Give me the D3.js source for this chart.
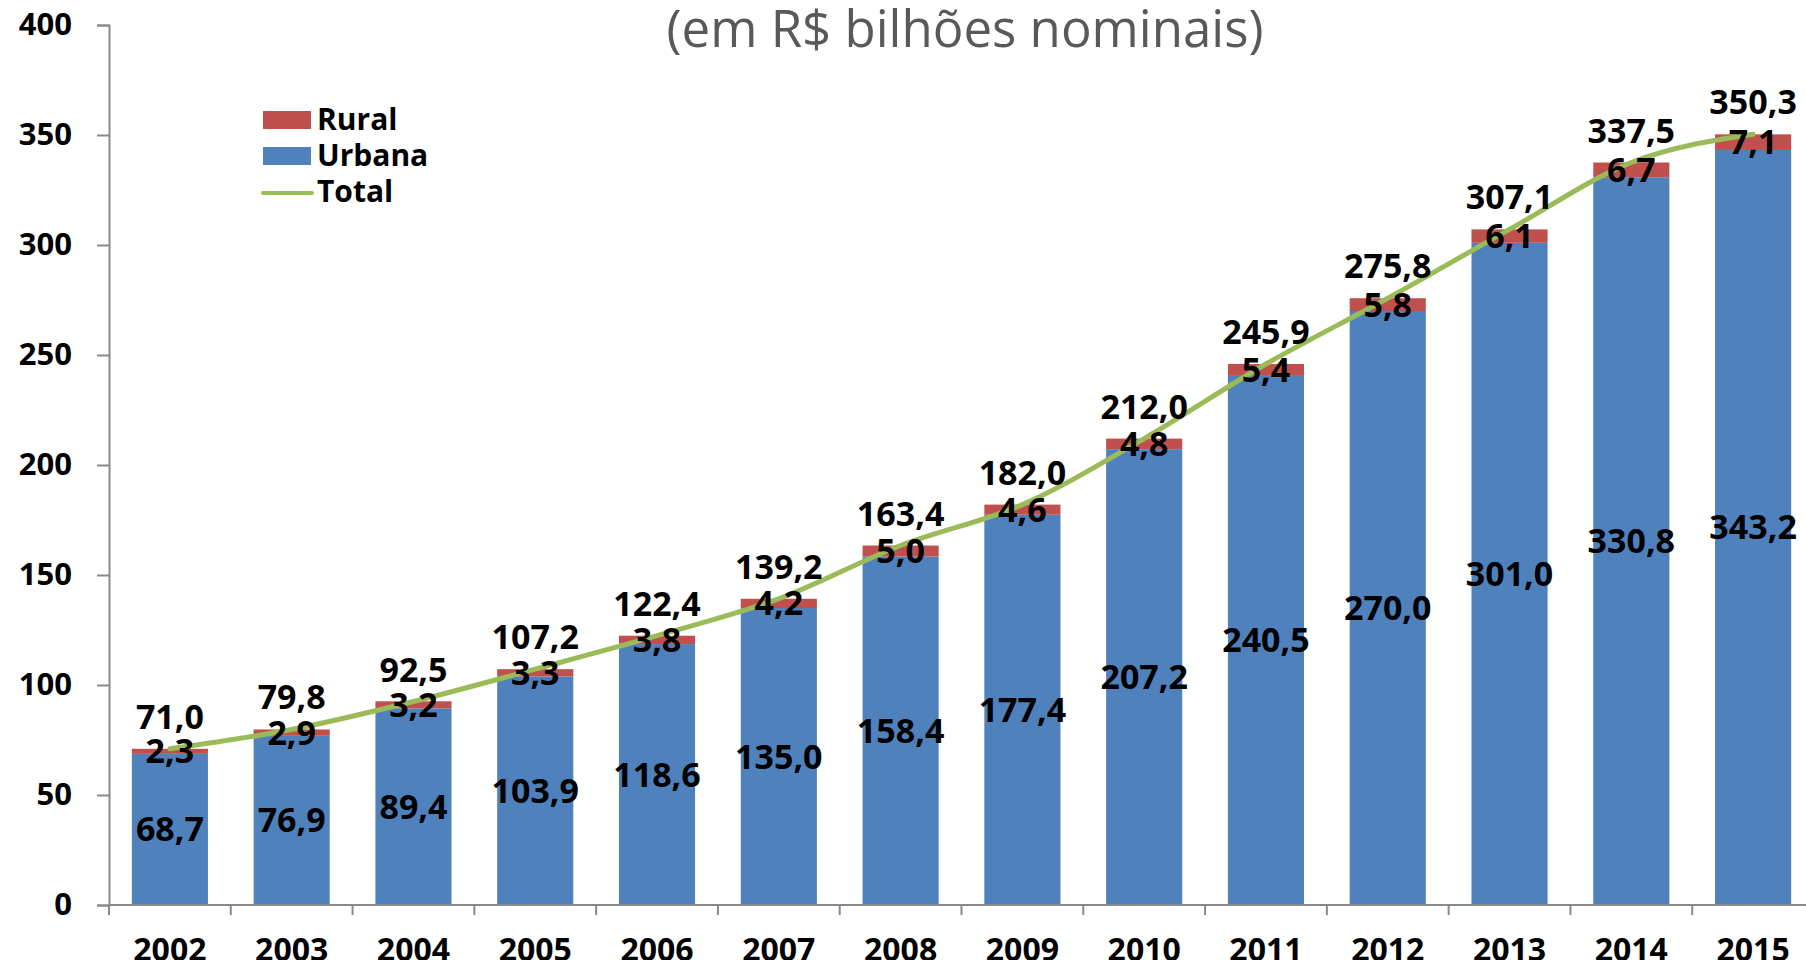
<!DOCTYPE html>
<html>
<head>
<meta charset="utf-8">
<script src="https://cdn.jsdelivr.net/npm/d3@7"></script>
<style>
  body { margin: 0; background: #fff; }
  svg { display: block; font-family: "Open Sans", sans-serif; }
</style>
</head>
<body>
<script>
var years   = ["2002", "2003", "2004", "2005", "2006", "2007", "2008",
               "2009", "2010", "2011", "2012", "2013", "2014", "2015"],
    urbana  = [68.7, 76.9, 89.4, 103.9, 118.6, 135.0, 158.4,
               177.4, 207.2, 240.5, 270.0, 301.0, 330.8, 343.2],
    rural   = [2.3, 2.9, 3.2, 3.3, 3.8, 4.2, 5.0,
               4.6, 4.8, 5.4, 5.8, 6.1, 6.7, 7.1],
    total   = [71.0, 79.8, 92.5, 107.2, 122.4, 139.2, 163.4,
               182.0, 212.0, 245.9, 275.8, 307.1, 337.5, 350.3],
    y_ticks = [0, 50, 100, 150, 200, 250, 300, 350, 400],
    legend  = [["Rural", "rect"], ["Urbana", "rect"], ["Total", "line"]];

(function() {

  var width  = 1806, height = 960,
      x0 = 109, x1 = 1814, y0 = 905, y1 = 25,
      c_urb = "#4f81bd", c_rur = "#c0504d", c_tot = "#9bbb59",
      c_axis = "#898989",
      br = d3.formatLocale({decimal: ",", thousands: ".", grouping: [3], currency: ["R$", ""]}),
      fmt = br.format(".1f"),
      svg, x, y, rows;

  rows = years.map(function(d, i) {
    return { year: d, urb: urbana[i], rur: rural[i], tot: total[i] };
  });

  x = d3.scaleBand().domain(years).range([x0, x1]).paddingInner(0.375).paddingOuter(0.1875);
  y = d3.scaleLinear().domain([0, 400]).range([y0, y1]);

  function cx(d) { return x(d.year) + x.bandwidth() / 2; }

  svg = d3.select("body").append("svg")
          .attr("width", width)
          .attr("height", height);

  // title
  svg.append("text")
    .attr("x", 965).attr("y", 47)
    .attr("text-anchor", "middle")
    .attr("font-size", 51)
    .attr("fill", "#595959")
    .text("(em R$ bilhões nominais)");

  // bars
  svg.append("g").selectAll("rect")
    .data(rows).enter().append("rect")
      .attr("x", function(d) { return x(d.year); })
      .attr("width", x.bandwidth())
      .attr("y", function(d) { return y(d.urb); })
      .attr("height", function(d) { return y(0) - y(d.urb); })
      .attr("fill", c_urb);

  svg.append("g").selectAll("rect")
    .data(rows).enter().append("rect")
      .attr("x", function(d) { return x(d.year); })
      .attr("width", x.bandwidth())
      .attr("y", function(d) { return y(d.urb + d.rur); })
      .attr("height", function(d) { return y(d.urb) - y(d.urb + d.rur); })
      .attr("fill", c_rur);

  // axes
  var ya = svg.append("g")
    .attr("transform", "translate(" + x0 + ",0)")
    .call(d3.axisLeft(y).tickValues(y_ticks).tickSize(12).tickPadding(25).tickFormat(d3.format("d")));

  var xa = svg.append("g")
    .attr("transform", "translate(0," + y0 + ")")
    .call(d3.axisBottom(x).tickSize(0).tickPadding(33));

  // category boundary ticks
  xa.append("g").selectAll("line")
    .data(d3.range(0, years.length + 1)).enter().append("line")
      .attr("x1", function(i) { return x0 + i * x.step(); })
      .attr("x2", function(i) { return x0 + i * x.step(); })
      .attr("y1", 0).attr("y2", 10)
      .attr("stroke", c_axis).attr("stroke-width", 2);

  [ya, xa].forEach(function(g) {
    g.select(".domain").attr("stroke", c_axis).attr("stroke-width", 2);
    g.selectAll(".tick line").attr("stroke", c_axis).attr("stroke-width", 2);
    g.selectAll(".tick text")
      .attr("fill", "#000")
      .attr("font-family", "Open Sans, sans-serif")
      .attr("font-weight", 700)
      .attr("font-size", 31);
  });
  xa.select(".domain").attr("d", "M" + x0 + ",0H" + x1);
  xa.selectAll(".tick text").attr("font-size", 32);

  // total line
  svg.append("path")
    .datum(rows)
    .attr("fill", "none")
    .attr("stroke", c_tot)
    .attr("stroke-width", 5)
    .attr("stroke-linecap", "round")
    .attr("d", d3.line()
      .x(cx)
      .y(function(d) { return y(d.tot); })
      .curve(d3.curveMonotoneX));

  // data labels
  var lab = svg.append("g")
    .attr("font-weight", 700)
    .attr("font-size", 34)
    .attr("text-anchor", "middle")
    .attr("fill", "#000");

  lab.selectAll("text.rur")
    .data(rows).enter().append("text")
      .attr("class", "rur")
      .attr("x", cx)
      .attr("y", function(d) { return (y(d.urb) + y(d.urb + d.rur)) / 2 + 12; })
      .text(function(d) { return fmt(d.rur); });

  lab.selectAll("text.urb")
    .data(rows).enter().append("text")
      .attr("class", "urb")
      .attr("x", cx)
      .attr("y", function(d) { return (y(0) + y(d.urb)) / 2 + 12; })
      .text(function(d) { return fmt(d.urb); });

  lab.selectAll("text.tot")
    .data(rows).enter().append("text")
      .attr("class", "tot")
      .attr("x", cx)
      .attr("y", function(d) { return y(d.tot) - 20; })
      .text(function(d) { return fmt(d.tot); });

  // legend
  var lg = svg.append("g").attr("transform", "translate(263,111)");
  var item = lg.selectAll("g")
    .data(legend).enter().append("g")
      .attr("transform", function(d, i) { return "translate(0," + (i * 36) + ")"; });

  item.filter(function(d) { return d[1] === "rect"; })
    .append("rect")
      .attr("width", 48).attr("height", 18)
      .attr("fill", function(d) { return d[0] === "Rural" ? c_rur : c_urb; });

  item.filter(function(d) { return d[1] === "line"; })
    .append("line")
      .attr("x1", 0).attr("x2", 49).attr("y1", 10).attr("y2", 10)
      .attr("stroke", c_tot).attr("stroke-width", 4).attr("stroke-linecap", "round");

  item.append("text")
    .attr("x", 54).attr("y", 19)
    .attr("font-weight", 700)
    .attr("font-size", 30)
    .text(function(d) { return d[0]; });

}());
</script>
</body>
</html>
